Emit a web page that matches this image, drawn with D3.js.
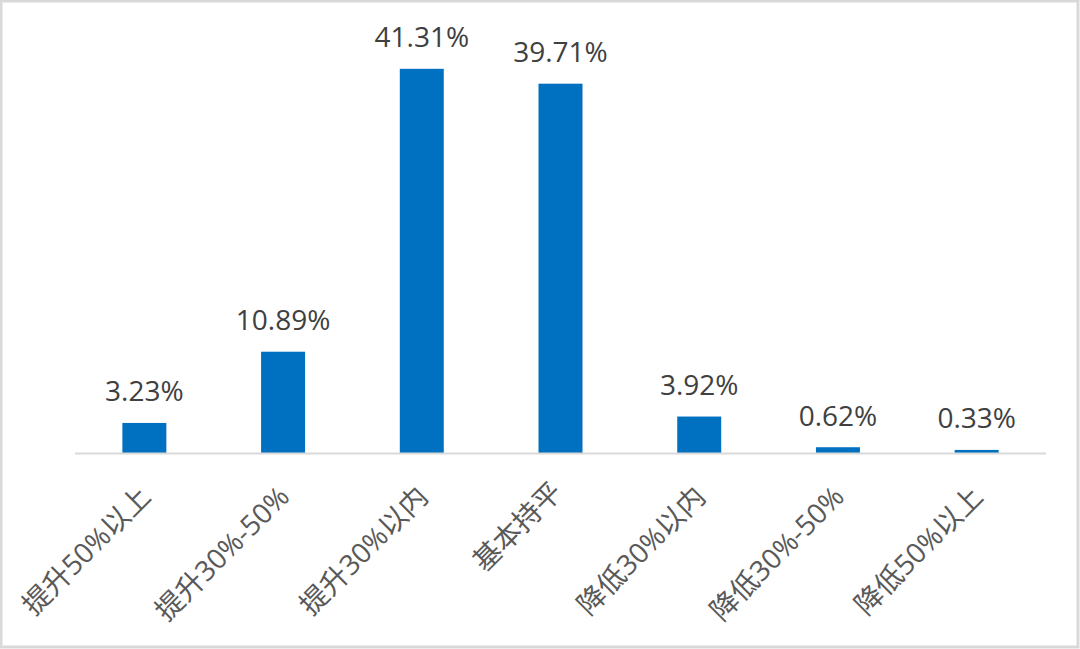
<!DOCTYPE html>
<html><head><meta charset="utf-8">
<script src="https://cdn.jsdelivr.net/npm/d3@7"></script>
<style>body{margin:0;background:#fff}svg{display:block}</style>
</head><body>
<script>
const categories = ["提升50%以上","提升30%-50%","提升30%以内","基本持平","降低30%以内","降低30%-50%","降低50%以上"];
const values = [3.23, 10.89, 41.31, 39.71, 3.92, 0.62, 0.33];
const valueLabels = ["3.23%","10.89%","41.31%","39.71%","3.92%","0.62%","0.33%"];

const W = 1080, H = 649;
const svg = d3.select("body").append("svg").attr("width", W).attr("height", H);
svg.append("rect").attr("x",1).attr("y",1).attr("width",W-3).attr("height",H-3)
  .attr("fill","#fff").attr("stroke","#d9d9d9").attr("stroke-width",3);

const x = d3.scaleBand().domain(categories).range([75, 1046]).paddingInner(0.683).paddingOuter(0.3415);
const y = d3.scaleLinear().domain([0, 45]).range([453, 34.5]);
const font = "'Open Sans', 'Noto Sans CJK SC', sans-serif";

svg.selectAll("rect.bar").data(values).join("rect").attr("class","bar")
  .attr("x",(d,i)=>x(categories[i])).attr("width",x.bandwidth())
  .attr("y",d=>y(d)).attr("height",d=>y(0)-y(d)).attr("fill","#0070C0");

svg.append("line").attr("x1",75).attr("x2",1046).attr("y1",453.5).attr("y2",453.5)
  .attr("stroke","#d9d9d9").attr("stroke-width",2);

svg.selectAll("text.val").data(values).join("text").attr("class","val")
  .attr("x",(d,i)=>x(categories[i])+x.bandwidth()/2).attr("y",d=>y(d)-21.5)
  .attr("text-anchor","middle").attr("font-family",font).attr("font-size",28)
  .attr("fill","#404040").text((d,i)=>valueLabels[i]);

const xa = svg.append("g").attr("transform","translate(0,453)")
  .call(d3.axisBottom(x).tickSize(0).tickPadding(0));
xa.select(".domain").remove();
xa.selectAll("text").attr("font-family",font).attr("font-size",28).attr("fill","#595959")
  .attr("text-anchor","end").attr("dy",d => /[0-9%]/.test(d) ? 0 : -6.5)
  .attr("transform","translate(8,45.5) rotate(-45)");
</script>
</body></html>
